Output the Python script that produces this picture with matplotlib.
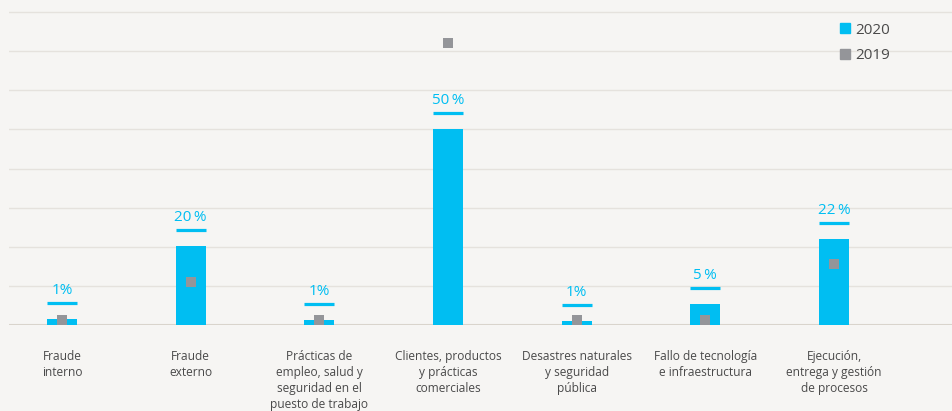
import matplotlib.pyplot as plt
from matplotlib.lines import Line2D

# data (% of total losses)
categories = [
    "Fraude\ninterno",
    "Fraude\nexterno",
    "Prácticas de\nempleo, salud y\nseguridad en el\npuesto de trabajo",
    "Clientes, productos\ny prácticas\ncomerciales",
    "Desastres naturales\ny seguridad\npública",
    "Fallo de tecnología\ne infraestructura",
    "Ejecución,\nentrega y gestión\nde procesos",
]
values_2020 = [1.5, 20.2, 1.3, 50.1, 1.0, 5.4, 22.0]
values_2019 = [1.4, 11.1, 1.4, 72.1, 1.4, 1.4, 15.7]
labels_2020 = ["1%", "20\u2009%", "1%", "50\u2009%", "1%", "5\u2009%", "22\u2009%"]

CYAN = "#00bef2"
GREY = "#949599"
BG = "#f6f5f3"
TEXT = "#4a4a4a"

plt.rcParams["font.family"] = ["Open Sans", "DejaVu Sans"]

fig = plt.figure(figsize=(9.52, 4.11), dpi=100, facecolor=BG)
ax = fig.add_axes([9 / 952, 86 / 411, 943 / 952, 325 / 411])
ax.set_facecolor(BG)

x = list(range(len(categories)))
width = 0.233

ax.bar(x, values_2020, width=width, color=CYAN, zorder=2)
ax.scatter(x, values_2019, marker="s", s=62, color=GREY, zorder=3, linewidths=0)

for i, v, lab in zip(x, values_2020, labels_2020):
    ax.hlines(v + 4, i - width / 2, i + width / 2, color=CYAN, lw=2.3, zorder=2)
    ax.annotate(lab, (i, v + 4), xytext=(0, 4), textcoords="offset points",
                ha="center", va="bottom", color=CYAN, fontsize=11,
                fontweight="medium")

for i, cat in zip(x, categories):
    ax.annotate(cat, (i, 0), xytext=(0, -18), textcoords="offset points",
                ha="center", va="top", color=TEXT, fontsize=8.6, linespacing=1.3,
                annotation_clip=False)

ax.set_xlim(-0.412, 6.917)
ax.set_ylim(0, 83.1)
ax.set_yticks(range(10, 90, 10))
ax.grid(axis="y", color="#e5e2dd", lw=1, zorder=0)
ax.axhline(0, color="#d9d4cc", lw=1.5, zorder=1)
ax.set_xticks([])
ax.tick_params(left=False, labelleft=False)
for s in ax.spines.values():
    s.set_visible(False)

handles = [
    Line2D([], [], marker="s", ls="", color=CYAN, markersize=7.8, label="2020"),
    Line2D([], [], marker="s", ls="", color=GREY, markersize=7.8, label="2019"),
]
ax.legend(handles=handles, loc="upper left", bbox_to_anchor=(821 / 943, 1 - 15 / 325),
          frameon=False, fontsize=11, handletextpad=0.15, labelspacing=0.7,
          borderpad=0, labelcolor=TEXT, handlelength=1)

fig.savefig("out.png", dpi=100, facecolor=BG)
